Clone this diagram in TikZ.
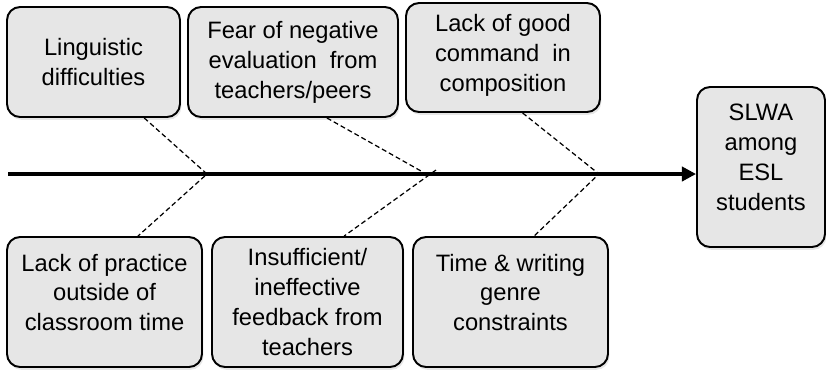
\documentclass[tikz,border=0pt]{standalone}
\usepackage{fontspec}
\setmainfont{Liberation Sans}
\usetikzlibrary{arrows.meta,calc,shadows}
\definecolor{boxgray}{HTML}{E6E6E6}

\begin{document}
\begin{tikzpicture}[x=0.02cm,y=-0.02cm,
   cause/.style={draw, line width=1.1pt, rounded corners=0.26cm, fill=boxgray,
      align=center, inner sep=0pt, font=\fontsize{13.5}{17}\selectfont,
      drop shadow={shadow xshift=0.8pt, shadow yshift=-1.6pt, opacity=0.2}},
   bone/.style={line width=0.7pt, dash pattern=on 2.8pt off 1.7pt}]
   \useasboundingbox (0,0) rectangle (826,370);
   % causes above the spine
   \node[cause, minimum width=3.46cm, minimum height=2.2cm] (ling) at (93.5,62) {Linguistic\\difficulties};
   \node[cause, minimum width=4.2cm, minimum height=2.2cm] (fear) at (293,62) {Fear of negative\\evaluation~ from\\teachers/peers};
   \node[cause, minimum width=3.88cm, minimum height=2.18cm] (comm) at (503,57.5) {Lack of good\\command~ in\\composition\\[-12pt]};
   % causes below the spine
   \node[cause, minimum width=3.9cm, minimum height=2.6cm] (prac) at (104.5,302) {Lack of practice\\outside of\\classroom time\\[-6pt]};
   \node[cause, minimum width=3.82cm, minimum height=2.6cm] (feed) at (307.5,302) {Insufficient/\\ineffective\\feedback from\\teachers};
   \node[cause, minimum width=3.9cm, minimum height=2.6cm] (time) at (510.5,302) {Time \& writing\\genre\\constraints\\[-6pt]};
   % effect
   \node[cause, minimum width=2.56cm, minimum height=3.2cm] (slwa) at (761,167) {SLWA\\among\\ESL\\students\\[-6pt]};
   % spine
   \coordinate (tail) at (8,174);
   \draw[line width=2.6pt, -{Triangle[length=8pt,width=8pt]}] (tail) -- (slwa.west |- tail);
   \coordinate (j1) at (207,174);
   \coordinate (j2a) at (421,171);
   \coordinate (j2b) at (436,170);
   \coordinate (j3) at (599,174);
   \draw[bone] ($(ling.south west)!0.79!(ling.south east)$) -- (j1) -- ($(prac.north west)!0.67!(prac.north east)$);
   \draw[bone] ($(fear.south west)!0.66!(fear.south east)$) -- (j2a);
   \draw[bone] (j2b) -- ($(feed.north west)!0.69!(feed.north east)$);
   \draw[bone] ($(comm.south west)!0.60!(comm.south east)$) -- (j3) -- ($(time.north west)!0.62!(time.north east)$);
\end{tikzpicture}
\end{document}
